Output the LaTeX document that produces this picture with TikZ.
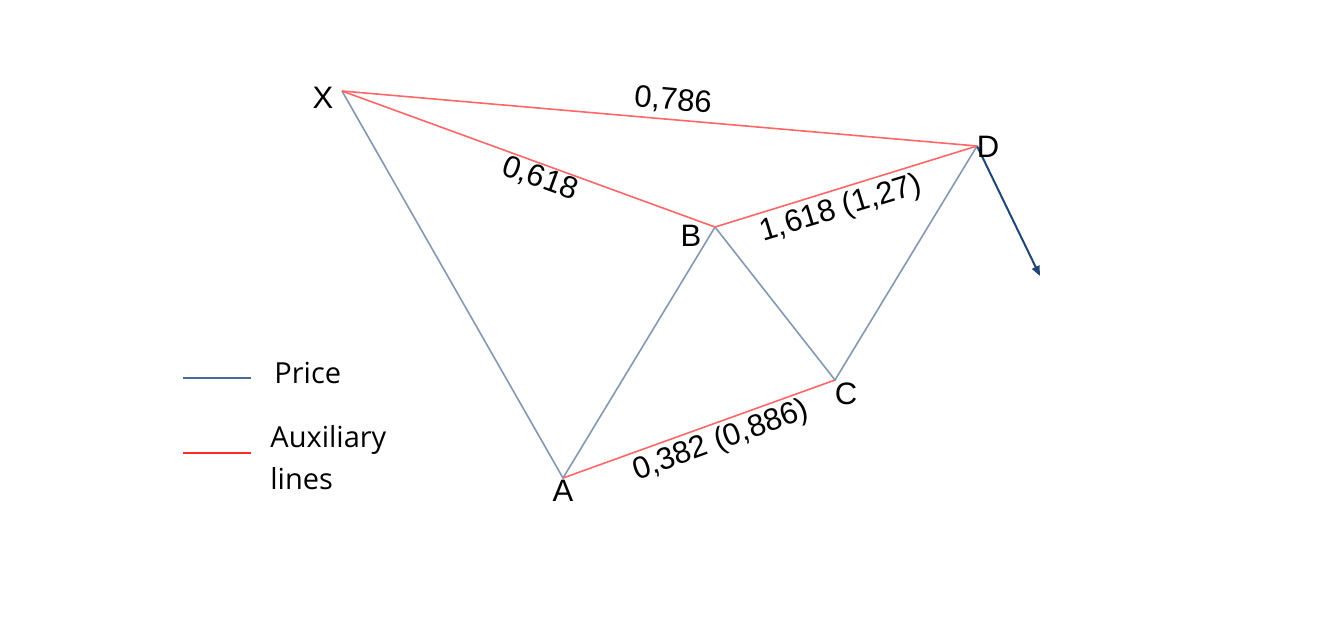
\documentclass[tikz,border=0pt]{standalone}
\usepackage{fontspec}
\setmainfont{Liberation Sans}
\newfontfamily\legendfont{Open Sans}
\usetikzlibrary{arrows.meta}
\definecolor{pricecol}{HTML}{8398B3}
\definecolor{auxcol}{HTML}{FF6666}
\definecolor{arrowcol}{HTML}{1F4676}
\definecolor{legblue}{HTML}{4A6B94}
\definecolor{legred}{HTML}{FF2A2A}

\begin{document}
\begin{tikzpicture}[x=0.5pt, y=-0.5pt,
    price/.style={pricecol, line width=0.8pt},
    aux/.style={auxcol, line width=0.8pt},
    ptlabel/.style={font=\fontsize{15.5}{18}\selectfont, inner sep=0pt},
    ratio/.style={font=\fontsize{15.5}{18}\selectfont, inner sep=0pt},
    legtext/.style={font=\legendfont\fontsize{14.5}{21}\selectfont, inner sep=0pt, anchor=west, align=left}]
    \useasboundingbox (0,0) rectangle (1336,629);

    % pattern points
    \coordinate (X) at (342,91);
    \coordinate (A) at (563,478);
    \coordinate (B) at (715,227);
    \coordinate (C) at (835,380);
    \coordinate (D) at (977,146);
    \coordinate (E) at (1040,276);

    % price swings
    \draw[price] (X) -- (A) -- (B) -- (C) -- (D);
    \draw[arrowcol, line width=1pt, -{Triangle[length=5pt, width=4pt]}] (D) -- (E);

    % auxiliary lines
    \draw[aux] (X) -- (D);
    \draw[aux] (X) -- (B) -- (D);
    \draw[aux] (A) -- (C);

    % point labels
    \node[ptlabel] (lX) at (323,98) {X};
    \node[ptlabel] (lA) at (563,491) {A};
    \node[ptlabel] (lB) at (691,236) {B};
    \node[ptlabel] (lC) at (846,394) {C};
    \node[ptlabel] (lD) at (988,147) {D};

    % ratios
    \node[ratio, rotate=-5] (rXD) at (673,101) {0,786};
    \node[ratio, rotate=-20] (rXB) at (540,179) {0,618};
    \node[ratio, rotate=17] (rBD) at (841,209) {1,618 (1,27)};
    \node[ratio, rotate=20] (rAC) at (721,441) {0,382 (0,886)};

    % legend
    \coordinate (p1) at (183,378);
    \coordinate (p2) at (251,378);
    \coordinate (a1) at (183,453);
    \coordinate (a2) at (251,453);
    \draw[legblue, line width=1.3pt] (p1) -- (p2);
    \draw[legred, line width=1.3pt] (a1) -- (a2);
    \node[legtext] (lPrice) at (274,373) {Price};
    \node[legtext] (lAux) at (270,458) {Auxiliary\\lines};
\end{tikzpicture}
\end{document}
